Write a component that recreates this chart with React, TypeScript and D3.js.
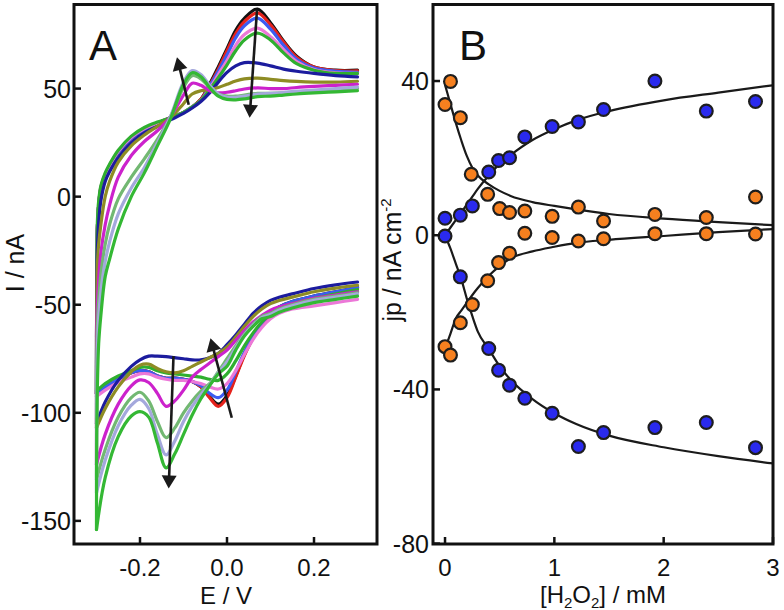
import React from "react";
import * as d3 from "d3";

// ---------- Panel A: cyclic voltammograms ----------
const UP_E = [-0.2995, -0.298, -0.295, -0.29, -0.28, -0.27, -0.25, -0.22, -0.19, -0.16, -0.13, -0.1, -0.08, -0.06, -0.04, -0.02, 0, 0.02, 0.04, 0.07, 0.1, 0.13, 0.16, 0.2, 0.25, 0.3];
const LOW_E = [0.3, 0.25, 0.2, 0.15, 0.12, 0.1, 0.08, 0.06, 0.04, 0.02, 0, -0.02, -0.04, -0.06, -0.08, -0.1, -0.12, -0.14, -0.16, -0.18, -0.2, -0.22, -0.25, -0.28, -0.3];

const upBlack = [-45, -15, -4, 4, 10, 14, 20.5, 27, 31, 34, 36.5, 39, 41.5, 45, 52, 60, 68.5, 77, 82.5, 86.8, 80.5, 72, 65, 60, 58.5, 58.5];
const upRed = [-45, -15, -4, 4, 10, 14, 20.5, 27, 31, 34, 36.5, 39, 41.5, 45, 51.5, 59, 67.5, 75.5, 81, 85, 79.5, 71.5, 64.5, 60, 58.3, 58.2];
const upBlue = [-45, -15, -4, 4, 10, 14, 20.5, 27, 31, 34, 36.5, 39, 41.5, 44.5, 51, 58, 65.5, 73.5, 79, 82.6, 77.5, 70, 63.5, 59.5, 58, 57.5];
const upPink = [-45, -15, -4, 4.5, 10.5, 14.5, 21, 27.5, 31.5, 34, 36.5, 39, 41.5, 44.5, 50, 56.5, 63, 70, 75, 78, 74, 68, 62.5, 58.8, 57.3, 57];
const upGreen1 = [-40, -12, -2, 5, 11, 15, 21.5, 28, 32, 34.5, 36.5, 39, 41.5, 44.5, 49.5, 55, 61, 67.5, 72.5, 75.7, 72.5, 66.5, 61.5, 58.5, 57, 57];
const upNavy = [-55, -25, -12, -2, 7, 11.5, 18, 25, 29.5, 32.5, 35.5, 38.5, 41, 44, 48, 53, 57.5, 60.5, 62, 61.8, 60.5, 59, 58, 57, 56, 55.4];
const upOlive = [-60, -32, -22, -13, 0, 7, 16, 23.5, 28.5, 32.5, 36.5, 43, 47.5, 49, 49.5, 50.5, 52, 53.5, 54.5, 54.8, 54.3, 53.7, 53.3, 53, 53, 53.4];
const upMagenta = [-75, -50, -38, -26, -13, -4, 9, 19, 25.5, 30.5, 37, 47, 52.5, 51.5, 49, 48, 48.3, 49, 49.8, 50.3, 50, 50, 50.5, 51, 51.5, 52];
const upLightGreen = [-85, -62, -48, -36, -22, -13, -1, 9, 17.5, 26.5, 37, 50.5, 56, 54.5, 50.5, 47.5, 46.5, 46.5, 47, 47.8, 47.8, 48, 48.5, 49, 49.5, 50];
const upLavender = [-95, -72, -56, -44, -30, -21, -8, 4, 13.5, 25, 37, 53, 58.3, 56.5, 51.5, 47.5, 46, 46, 46.5, 47.5, 47.8, 48.2, 48.8, 49.3, 50, 50.7];
const upGreen2 = [-110, -88, -68, -55, -37, -29, -15, 0, 11, 23.5, 36, 52, 57.3, 55.5, 50.5, 46.5, 45, 44.8, 45.2, 46.3, 46.5, 47, 47.5, 48, 48.5, 49];

const lowBlack = [-42, -44, -46, -48.5, -51, -54, -59, -65, -73, -83, -92, -96, -92.5, -88, -85.5, -84.5, -84, -84, -83, -81, -80.5, -81.5, -84.5, -88, -91];
const lowRed = [-42.5, -44.5, -46.5, -49, -51.5, -54.5, -59.5, -65.5, -73.5, -83.5, -93, -97, -93, -88, -85.5, -84.5, -84, -84, -83, -81, -80.5, -81.5, -84.5, -88, -91];
const lowBlue = [-42, -44, -46, -48.5, -51, -54, -58.5, -64.5, -72, -81, -89.5, -93, -91, -87.5, -85.5, -84.5, -84, -84, -83, -81, -80.5, -81.5, -84.5, -88, -91];
const lowPink = [-47.5, -49, -50.5, -52, -54, -56.5, -60.5, -66, -73, -80.5, -86.5, -89, -88, -86.5, -85.5, -85, -85, -84.5, -83.5, -82, -82, -83.5, -86, -89.5, -92.5];
const lowGreen1 = [-43, -45, -47, -49.5, -51.5, -54, -58, -63, -69, -76, -82, -85, -84.5, -83.5, -83, -82.5, -82, -81.5, -80.5, -79, -79, -80.5, -83, -86.5, -90];
const lowNavy = [-39.5, -40.8, -42.5, -45, -46.5, -48, -50.5, -54, -59, -64, -68.5, -72.5, -74.5, -75.5, -75.5, -75, -74.5, -74, -73.8, -73.8, -75.5, -78.5, -85, -95, -105];
const lowOlive = [-41, -42.3, -44, -46.5, -48, -49.5, -52, -55.5, -60, -65, -69.5, -72.5, -74.5, -76.5, -78.5, -80.5, -81.5, -81, -79.5, -77.5, -78, -81, -88, -98, -107];
const lowMagenta = [-44, -45.5, -47, -49.5, -51, -52.5, -55, -58, -62, -66.5, -71, -74, -77, -80, -83.5, -89.5, -94.5, -97, -91, -86, -84.8, -87.5, -96, -110, -124];
const lowLightGreen = [-44.5, -46, -47.5, -50, -52, -54, -55.5, -59, -63.5, -69, -75, -81, -86.5, -90, -94.5, -100, -107, -111.5, -104, -94.5, -90.5, -93, -102, -117, -131];
const lowLavender = [-45, -46.5, -48, -50.5, -52.5, -54.5, -56, -59.5, -64, -70, -76.5, -81.5, -87, -91.5, -97, -104, -113, -119.5, -110, -98, -93.8, -96.5, -106, -122, -137];
const lowGreen2 = [-46, -47.5, -49, -51.5, -53.5, -55.5, -56.5, -60, -64.5, -71, -78.5, -82, -87.5, -93.5, -101, -110, -119, -125.5, -114, -102, -99.5, -101.5, -111, -130, -154];

const CV_SERIES = [
  { up: upBlack, low: lowBlack },
  { up: upRed, low: lowRed },
  { up: upBlue, low: lowBlue },
  { up: upPink, low: lowPink },
  { up: upGreen1, low: lowGreen1 },
  { up: upNavy, low: lowNavy },
  { up: upOlive, low: lowOlive },
  { up: upMagenta, low: lowMagenta },
  { up: upLightGreen, low: lowLightGreen },
  { up: upLavender, low: lowLavender },
  { up: upGreen2, low: lowGreen2 },
];
const CV_COLORS = ["#111111", "#e5221c", "#3c5cf2", "#ec78d8", "#2faf2f", "#1c1c9e", "#8e8c24", "#cc22cc", "#72b872", "#a4a8dc", "#34b834"];

// arrows: [tailE, tailI, tipE, tipI]
const CV_ARROWS = [
  [-0.088, 42.5, -0.115, 64.5],
  [0.069, 86.5, 0.052, 36.5],
  [-0.123, -73.8, -0.134, -135],
  [0.011, -102.3, -0.038, -65.5],
];

const A_X_TICKS = [-0.2, 0, 0.2];
const A_X_LABELS = ["-0.2", "0.0", "0.2"];
const A_Y_TICKS = [50, 0, -50, -100, -150];

// ---------- Panel B: peak current density vs [H2O2] ----------
const blueUpC = [0, 0.14, 0.25, 0.4, 0.49, 0.59, 0.73, 0.98, 1.22, 1.45, 1.92, 2.39, 2.84];
const blueUpV = [4.4, 5.2, 7.6, 16.4, 19.4, 20.1, 25.5, 28.2, 29.4, 32.6, 40.0, 32.2, 34.7];
const blueLowC = [0, 0.14, 0.4, 0.49, 0.59, 0.73, 0.98, 1.22, 1.45, 1.92, 2.39, 2.84];
const blueLowV = [-0.2, -10.8, -29.4, -35, -38.9, -42.3, -46.2, -54.8, -51.2, -49.9, -48.6, -55.1];
const orangeUpC = [0.05, 0, 0.14, 0.24, 0.39, 0.5, 0.59, 0.73, 0.98, 1.22, 1.45, 1.92, 2.39, 2.84];
const orangeUpV = [39.9, 33.9, 30.5, 15.8, 10.6, 6.9, 5.9, 6.3, 4.9, 7.3, 3.7, 5.4, 4.6, 9.9];
const orangeLowC = [0.73, 0.98, 1.22, 1.45, 1.92, 2.39, 2.84, 0.59, 0.49, 0.39, 0.25, 0.14, 0, 0.05];
const orangeLowV = [0.5, -0.6, -1.5, -0.9, 0.4, 0.4, 0.3, -4.7, -7.1, -11.8, -18.0, -22.7, -28.9, -31.1];

const FIT_C = [0, 0.05, 0.1, 0.15, 0.2, 0.25, 0.3, 0.4, 0.5, 0.6, 0.8, 1.0, 1.2, 1.5, 2.0, 2.5, 3.0];
const fitRiseUp = [0, 2, 4, 6, 8, 10, 12, 15.5, 18.5, 20.8, 24.7, 27.5, 29.8, 32.2, 35, 37, 38.9];
const fitDecayUp = [39, 34, 29, 24.5, 20.5, 17.5, 15.5, 13.2, 11.5, 10.2, 8.6, 7.6, 6.7, 5.5, 4.3, 3.4, 2.6];
const fitDecayLow = [0, -3.5, -7.5, -11.5, -16.5, -21, -25, -29.5, -34, -37.5, -42.5, -46.2, -49, -52, -55, -57.3, -59.2];
const fitRiseLow = [-29.5, -25.5, -21.5, -19.5, -17.5, -15.5, -13.7, -10.5, -8, -6, -4.2, -3, -2, -1.2, -0.2, 0.8, 1.6];

const B_X_TICKS = [0, 1, 2, 3];
const B_Y_TICKS = [40, 0, -40, -80];

const FONT = "'Liberation Sans', Arial, Helvetica, sans-serif";

function Arrow({ x1, y1, x2, y2 }: { x1: number; y1: number; x2: number; y2: number }) {
  const dx = x2 - x1, dy = y2 - y1;
  const len = Math.hypot(dx, dy);
  const ux = dx / len, uy = dy / len;
  const hl = 13, hw = 7.5;
  const bx = x2 - ux * hl, by = y2 - uy * hl;
  const pts = [
    [x2, y2],
    [bx - uy * hw, by + ux * hw],
    [bx + uy * hw, by - ux * hw],
  ];
  return (
    <g>
      <line x1={x1} y1={y1} x2={bx + ux * 2} y2={by + uy * 2} stroke="#1a1a1a" strokeWidth={2.6} />
      <polygon points={pts.map((p) => p.join(",")).join(" ")} fill="#1a1a1a" />
    </g>
  );
}

export default function App() {
  const xA = d3.scaleLinear().domain([-0.3517, 0.3448]).range([74, 377]);
  const yA = d3.scaleLinear().domain([-160.7, 88.9]).range([544, 4.5]);
  const xB = d3.scaleLinear().domain([-0.11, 3.0]).range([433, 773]);
  const yB = d3.scaleLinear().domain([-80.1, 59.85]).range([544, 4.5]);

  const cvLine = d3
    .line<[number, number]>()
    .x((d) => xA(d[0]))
    .y((d) => yA(d[1]))
    .curve(d3.curveCatmullRom.alpha(0.5));

  const fitLine = d3
    .line<[number, number]>()
    .x((d) => xB(d[0]))
    .y((d) => yB(d[1]))
    .curve(d3.curveMonotoneX);

  const zip = (a: number[], b: number[]) => a.map((v, i) => [v, b[i]] as [number, number]);

  const [a0, a1] = xA.range();
  const [aBot, aTop] = yA.range();
  const [b0, b1] = xB.range();

  const fits = [fitRiseUp, fitDecayUp, fitDecayLow, fitRiseLow];
  const points = [
    { c: blueUpC, v: blueUpV, fill: "#2a2aee" },
    { c: blueLowC, v: blueLowV, fill: "#2a2aee" },
    { c: orangeUpC, v: orangeUpV, fill: "#f6801f" },
    { c: orangeLowC, v: orangeLowV, fill: "#f6801f" },
  ];

  return (
    <svg
      width={784}
      height={610}
      viewBox="0 0 784 610"
      style={{ position: "absolute", left: 0, top: 0, background: "#fff", fontFamily: FONT }}
    >
      <defs>
        <clipPath id="clipA">
          <rect x={a0} y={aTop} width={a1 - a0} height={aBot - aTop} />
        </clipPath>
        <clipPath id="clipB">
          <rect x={b0} y={aTop} width={b1 - b0} height={aBot - aTop} />
        </clipPath>
      </defs>
      <rect x={0} y={0} width={784} height={610} fill="#fff" />

      {/* ---------- Panel A ---------- */}
      <g clipPath="url(#clipA)">
        {CV_SERIES.map((s, i) => {
          const low = zip(LOW_E, s.low);
          const up: [number, number][] = [[LOW_E[LOW_E.length - 1], s.low[s.low.length - 1]], ...zip(UP_E, s.up)];
          return (
            <g key={i} fill="none" stroke={CV_COLORS[i]} strokeWidth={3.2} strokeLinejoin="round" strokeLinecap="round">
              <path d={cvLine(low) || ""} />
              <path d={cvLine(up) || ""} />
            </g>
          );
        })}
      </g>
      {CV_ARROWS.map((a, i) => (
        <Arrow key={i} x1={xA(a[0])} y1={yA(a[1])} x2={xA(a[2])} y2={yA(a[3])} />
      ))}
      <rect x={a0} y={aTop} width={a1 - a0} height={aBot - aTop} fill="none" stroke="#111" strokeWidth={3} />
      {A_X_TICKS.map((t, i) => (
        <g key={"ax" + i}>
          <line x1={xA(t)} x2={xA(t)} y1={aBot} y2={aBot - 7} stroke="#111" strokeWidth={2.5} />
          <text x={xA(t)} y={576} fontSize={24} textAnchor="middle" fill="#111">
            {A_X_LABELS[i]}
          </text>
        </g>
      ))}
      {A_Y_TICKS.map((t, i) => (
        <g key={"ay" + i}>
          <line x1={a0} x2={a0 + 7} y1={yA(t)} y2={yA(t)} stroke="#111" strokeWidth={2.5} />
          <text x={71} y={yA(t)} dy="0.36em" fontSize={25} textAnchor="end" fill="#111">
            {String(t)}
          </text>
        </g>
      ))}
      <text x={226} y={604} fontSize={24} textAnchor="middle" fill="#111">E / V</text>
      <text transform="translate(24,263) rotate(-90)" fontSize={25} textAnchor="middle" fill="#111">I / nA</text>
      <text x={89} y={60} fontSize={42} fill="#111">A</text>

      {/* ---------- Panel B ---------- */}
      <g clipPath="url(#clipB)">
        {fits.map((f, i) => (
          <path key={"f" + i} d={fitLine(zip(FIT_C, f)) || ""} fill="none" stroke="#1a1a1a" strokeWidth={2.2} />
        ))}
        {points.map((p, i) =>
          p.c.map((c, j) => (
            <circle key={i + "-" + j} cx={xB(c)} cy={yB(p.v[j])} r={6.4} fill={p.fill} stroke="#1e1e1e" strokeWidth={2.2} />
          ))
        )}
      </g>
      <rect x={b0} y={aTop} width={b1 - b0} height={aBot - aTop} fill="none" stroke="#111" strokeWidth={3} />
      {B_X_TICKS.map((t, i) => (
        <g key={"bx" + i}>
          <line x1={xB(t)} x2={xB(t)} y1={aBot} y2={aBot - 7} stroke="#111" strokeWidth={2.5} />
          <text x={xB(t)} y={576} fontSize={24} textAnchor="middle" fill="#111">
            {String(t)}
          </text>
        </g>
      ))}
      {B_Y_TICKS.map((t, i) => (
        <g key={"by" + i}>
          <line x1={b0} x2={b0 + 7} y1={yB(t)} y2={yB(t)} stroke="#111" strokeWidth={2.5} />
          <text x={429} y={yB(t)} dy="0.36em" fontSize={25} textAnchor="end" fill="#111">
            {String(t)}
          </text>
        </g>
      ))}
      <text x={603} y={603} fontSize={24} textAnchor="middle" fill="#111">
        [H<tspan dy={5} fontSize={15}>2</tspan>
        <tspan dy={-5}>O</tspan>
        <tspan dy={5} fontSize={15}>2</tspan>
        <tspan dy={-5}>] / mM</tspan>
      </text>
      <text transform="translate(401,260) rotate(-90)" fontSize={25} textAnchor="middle" fill="#111">
        jp / nA cm<tspan dy={-10} fontSize={15}>-2</tspan>
      </text>
      <text x={459} y={60} fontSize={42} fill="#111">B</text>
    </svg>
  );
}
